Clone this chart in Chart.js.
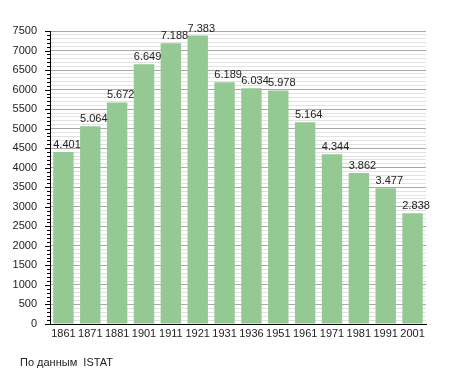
<!DOCTYPE html>
<html lang="ru">
<head>
  <meta charset="UTF-8" />
  <title>Население</title>
  <script src="https://cdn.jsdelivr.net/npm/chart.js"></script>
  <style>
    html, body { margin: 0; padding: 0; background: #fff; }
    #wrap { width: 455px; height: 373px; }
  </style>
</head>
<body>
  <div id="wrap"><canvas id="popChart" width="455" height="373"></canvas></div>
  <script>
    const years = ['1861', '1871', '1881', '1901', '1911', '1921', '1931', '1936', '1951', '1961', '1971', '1981', '1991', '2001'];
    const population = [4401, 5064, 5672, 6649, 7188, 7383, 6189, 6034, 5978, 5164, 4344, 3862, 3477, 2838];
    const yMax = 7500;
    const sourceNote = 'По данным  ISTAT';

    const FONT = "'Liberation Sans', Arial, sans-serif";
    const fmt = v => String(v).replace(/\B(?=(\d{3})+(?!\d))/g, '.');

    // value labels, y tick marks and the source line
    const extras = {
      id: 'extras',
      afterDatasetsDraw(chart) {
        const ctx = chart.ctx;
        const meta = chart.getDatasetMeta(0);
        ctx.save();
        ctx.font = '11px ' + FONT;
        ctx.fillStyle = '#222';
        ctx.textAlign = 'left';
        ctx.textBaseline = 'alphabetic';
        meta.data.forEach((bar, i) => {
          ctx.fillText(fmt(population[i]), bar.x - bar.width / 2, bar.y - 4);
        });
        ctx.restore();
      },
      afterDraw(chart) {
        const ctx = chart.ctx;
        const y = chart.scales.y;
        const x0 = chart.chartArea.left;
        ctx.save();
        ctx.strokeStyle = '#000';
        ctx.lineWidth = 1;
        for (let v = 0; v <= yMax; v += 100) {
          const py = Math.round(y.getPixelForValue(v)) + 0.5;
          const len = v % 500 === 0 ? 5 : 3;
          ctx.beginPath();
          ctx.moveTo(x0 - len, py);
          ctx.lineTo(x0, py);
          ctx.stroke();
        }
        ctx.font = '11px ' + FONT;
        ctx.fillStyle = '#222';
        ctx.fillText(sourceNote, 20, 366);
        ctx.restore();
      }
    };

    new Chart(document.getElementById('popChart'), {
      type: 'bar',
      data: {
        labels: years,
        datasets: [{
          data: population,
          backgroundColor: '#94c994',
          borderWidth: 0,
          categoryPercentage: 1,
          barPercentage: 0.76
        }]
      },
      options: {
        responsive: false,
        animation: false,
        layout: { padding: { top: 31, right: 29, bottom: 29, left: 0 } },
        plugins: { legend: { display: false }, tooltip: { enabled: false } },
        scales: {
          x: {
            afterFit: s => { s.height = 20; },
            grid: { display: false, drawTicks: false },
            border: { color: '#000', width: 1 },
            ticks: { color: '#222', padding: 3, font: { family: FONT, size: 11 }, maxRotation: 0, autoSkip: false }
          },
          y: {
            min: 0,
            max: yMax,
            afterFit: s => { s.width = 50; },
            border: { color: '#000', width: 1 },
            grid: {
              drawTicks: false,
              color: c => (c.tick && c.tick.value % 500 === 0) ? '#a8a8a8' : '#e2e2e2'
            },
            ticks: {
              stepSize: 100,
              autoSkip: false,
              padding: 13,
              color: '#222',
              font: { family: FONT, size: 11 },
              callback: v => (v % 500 === 0 ? v : '')
            }
          }
        }
      },
      plugins: [extras]
    });
  </script>
</body>
</html>
